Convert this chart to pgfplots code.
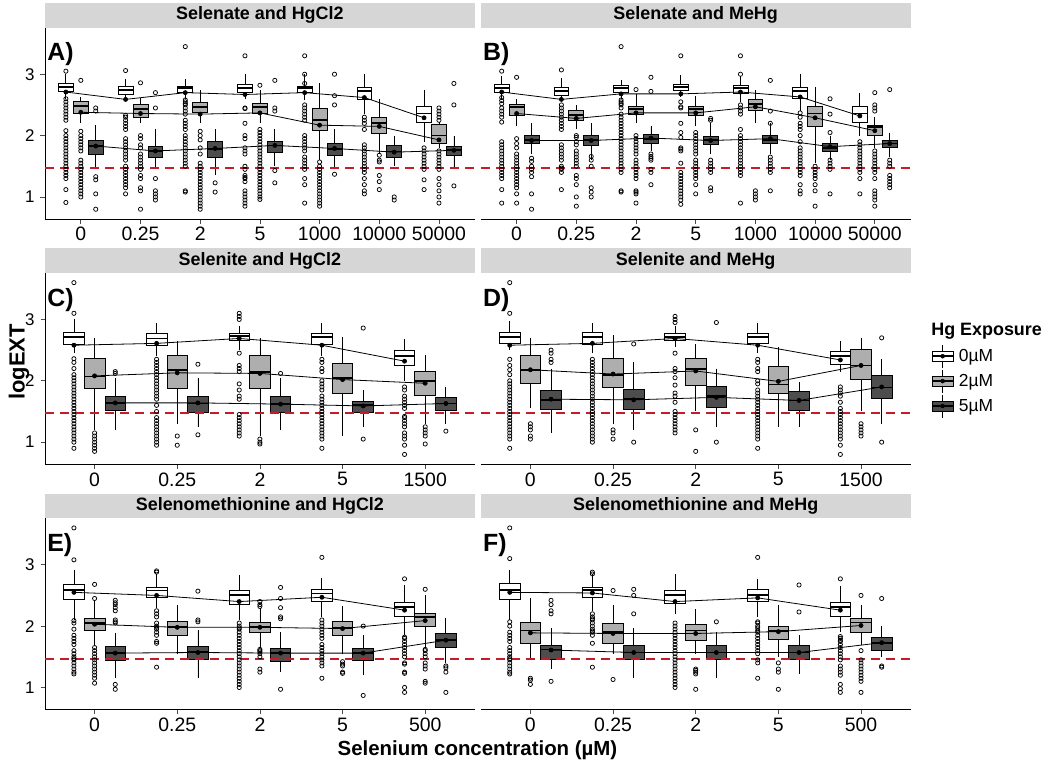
\documentclass[border=0pt]{standalone}
\usepackage{fontspec}
\setmainfont{Liberation Sans}
\usepackage{pgfplots}
\usepackage{pgfplotstable}
\usepgfplotslibrary{statistics}
\pgfplotsset{compat=1.18}
\definecolor{stripgray}{RGB}{214,214,214}
\definecolor{boxgray}{RGB}{174,174,174}
\definecolor{boxdark}{RGB}{77,77,77}
\definecolor{refred}{RGB}{196,28,40}

\newcommand{\legkey}[1]{%
  \draw[black, line width=0.6bp] (10.5bp,-11.5bp) -- (10.5bp,11.5bp);
  \draw[black, line width=0.8bp, fill=#1] (0bp,-5bp) rectangle (21bp,5bp);
  \draw[black, line width=1.6bp] (0bp,0bp) -- (21bp,0bp);
  \fill[black] (10.5bp,0bp) circle (2bp);
}
\tikzset{plabel/.style={anchor=north west, inner sep=0pt, font=\fontsize{25}{25}\selectfont\bfseries}}

\pgfplotsset{
  every axis title/.style={at={(0.5,1)}, anchor=south, fill=stripgray, minimum width=429.8bp, minimum height=24.5bp, inner sep=0pt, font=\fontsize{18}{18}\selectfont\bfseries},
  panel/.style={
    scale only axis, width=429.8bp, height=191.5bp, anchor=south west, clip=false,
    xmin=0.4, ymin=0.636, ymax=3.757,
    axis x line*=bottom, axis y line*=left,
    axis line style={-, line width=0.8bp, black},
    tick align=outside, major tick length=4.5bp,
    tick style={line width=0.7bp, black!70},
    ytick={1,2,3}, yticklabels={1,2,3},
    yticklabel style={font=\fontsize{17}{17}\selectfont, xshift=-2.5bp},
    xticklabel style={font=\fontsize{19.5}{19.5}\selectfont},
    boxplot/draw direction=y, boxplot/box extend=0.25, boxplot/whisker extend=0,
    boxplot/every median/.style={line width=1.8bp},
  },
  rpanel/.style={panel, y axis line style={draw=none}, ytick=\empty},
  meanline/.style={black, line width=0.8bp, mark=*, mark size=2bp, mark options={fill=black, solid}},
  outl/.style={only marks, mark=o, mark size=2.1bp, mark options={black, line width=0.75bp}},
  refline/.style={refred, line width=2bp, dash pattern=on 9bp off 6bp},
}

% one box read from a row of a panel table: #1 table, #2 row, #3 group prefix, #4 offset, #5 fill
\newcommand{\onebox}[5]{%
  \pgfplotstablegetelem{#2}{#3l}\of#1\let\bLW\pgfplotsretval
  \pgfplotstablegetelem{#2}{#3q}\of#1\let\bLQ\pgfplotsretval
  \pgfplotstablegetelem{#2}{#3m}\of#1\let\bMD\pgfplotsretval
  \pgfplotstablegetelem{#2}{#3u}\of#1\let\bUQ\pgfplotsretval
  \pgfplotstablegetelem{#2}{#3h}\of#1\let\bUW\pgfplotsretval
  \pgfmathsetmacro\bPOS{#2+#4}%
  \edef\temp{\noexpand\addplot[boxplot prepared={draw position=\bPOS, lower whisker=\bLW, lower quartile=\bLQ, median=\bMD, upper quartile=\bUQ, upper whisker=\bUW}, draw=black, fill=#5, line width=0.8bp] coordinates {};}%
  \temp
}

\newcommand{\drawpanel}[3]{%
  \pgfplotsinvokeforeach{0,...,#2}{\onebox{#1}{##1}{w}{0.75}{white}}
  \pgfplotsinvokeforeach{0,...,#2}{\onebox{#1}{##1}{g}{1}{boxgray}}
  \pgfplotsinvokeforeach{0,...,#2}{\onebox{#1}{##1}{d}{1.25}{boxdark}}
  \addplot[meanline] table[x expr=\thisrow{c}-0.25, y=wa] {#1};
  \addplot[meanline] table[x=c, y=ga] {#1};
  \addplot[meanline] table[x expr=\thisrow{c}+0.25, y=da] {#1};
}

% c: category; w/g/d = 0uM / 2uM / 5uM; l=lower whisker, q=lower quartile, m=median, u=upper quartile, h=upper whisker, a=mean
\pgfplotstableread{
c wl wq wm wu wh wa gl gq gm gu gh ga dl dq dm du dh da
1 2.60 2.72 2.79 2.85 3.00 2.71 2.20 2.36 2.48 2.56 2.63 2.38 1.46 1.70 1.83 1.92 2.17 1.83
2 2.58 2.67 2.74 2.80 2.93 2.59 2.20 2.30 2.44 2.51 2.62 2.36 1.47 1.65 1.75 1.83 2.10 1.75
3 2.60 2.71 2.77 2.80 2.93 2.70 2.20 2.37 2.47 2.54 2.75 2.35 1.35 1.65 1.78 1.91 2.10 1.79
4 2.60 2.71 2.78 2.83 3.00 2.67 2.20 2.36 2.46 2.53 2.75 2.37 1.50 1.72 1.84 1.91 2.10 1.84
5 2.58 2.70 2.77 2.80 3.00 2.70 1.60 2.09 2.25 2.44 2.85 2.17 1.45 1.68 1.78 1.87 2.10 1.79
6 2.35 2.59 2.73 2.78 3.00 2.62 1.70 2.03 2.20 2.29 2.60 2.15 1.50 1.65 1.74 1.84 2.00 1.73
7 1.90 2.21 2.36 2.47 2.75 2.29 1.80 1.87 2.00 2.18 2.22 1.93 1.45 1.68 1.76 1.83 2.00 1.76
}\tA
\pgfplotstableread{
c wl wq wm wu wh wa gl gq gm gu gh ga dl dq dm du dh da
1 2.60 2.71 2.78 2.84 2.97 2.71 2.15 2.33 2.47 2.51 2.60 2.36 1.70 1.87 1.93 2.00 2.20 1.92
2 2.62 2.66 2.73 2.79 2.94 2.59 2.10 2.24 2.33 2.41 2.50 2.28 1.60 1.84 1.93 2.00 2.20 1.92
3 2.60 2.71 2.77 2.81 2.90 2.68 2.20 2.35 2.44 2.48 2.68 2.37 1.75 1.88 1.95 2.02 2.15 1.96
4 2.63 2.73 2.79 2.84 2.98 2.68 2.15 2.33 2.43 2.48 2.65 2.37 1.70 1.85 1.93 1.99 2.20 1.92
5 2.55 2.69 2.77 2.81 2.97 2.71 2.20 2.41 2.52 2.59 2.75 2.47 1.70 1.87 1.93 2.00 2.20 1.95
6 2.40 2.60 2.73 2.78 3.00 2.63 1.55 2.15 2.36 2.48 2.80 2.29 1.60 1.75 1.80 1.87 2.00 1.82
7 2.00 2.21 2.36 2.47 2.70 2.32 1.80 2.00 2.14 2.17 2.30 2.08 1.65 1.80 1.87 1.92 2.05 1.87
}\tB
\pgfplotstableread{
c wl wq wm wu wh wa gl gq gm gu gh ga dl dq dm du dh da
1 2.45 2.60 2.71 2.79 3.00 2.58 1.20 1.87 2.07 2.36 2.70 2.08 1.20 1.52 1.64 1.75 2.05 1.64
2 2.40 2.58 2.69 2.78 2.95 2.61 1.30 1.87 2.17 2.41 2.65 2.13 1.25 1.49 1.63 1.75 2.05 1.64
3 2.50 2.66 2.73 2.78 2.90 2.69 1.10 1.87 2.14 2.41 2.70 2.12 1.20 1.48 1.62 1.74 2.05 1.62
4 2.40 2.60 2.71 2.78 2.95 2.58 1.10 1.79 2.04 2.28 2.72 2.02 1.25 1.48 1.60 1.67 1.85 1.59
5 2.00 2.25 2.40 2.49 2.68 2.32 1.30 1.77 2.00 2.16 2.42 1.96 1.30 1.51 1.63 1.73 1.90 1.63
}\tC
\pgfplotstableread{
c wl wq wm wu wh wa gl gq gm gu gh ga dl dq dm du dh da
1 2.50 2.61 2.71 2.79 2.98 2.58 1.55 1.96 2.18 2.41 2.70 2.18 1.15 1.53 1.69 1.85 2.20 1.70
2 2.45 2.60 2.71 2.79 2.95 2.61 1.30 1.90 2.10 2.36 2.75 2.11 1.20 1.54 1.70 1.86 2.30 1.69
3 2.55 2.66 2.72 2.78 2.90 2.69 1.50 1.93 2.19 2.37 2.60 2.16 1.25 1.56 1.75 1.91 2.20 1.73
4 2.45 2.61 2.71 2.78 2.95 2.58 1.25 1.79 1.94 2.23 2.55 1.99 1.25 1.52 1.68 1.82 1.98 1.68
5 2.15 2.27 2.40 2.48 2.65 2.34 1.50 2.03 2.25 2.51 2.70 2.25 1.30 1.72 1.89 2.09 2.35 1.90
}\tD
\pgfplotstableread{
c wl wq wm wu wh wa gl gq gm gu gh ga dl dq dm du dh da
1 2.10 2.43 2.59 2.68 2.92 2.55 1.70 1.93 2.05 2.13 2.42 2.03 1.15 1.44 1.56 1.67 1.88 1.56
2 2.30 2.47 2.58 2.63 2.85 2.50 1.55 1.85 1.98 2.08 2.35 1.98 1.15 1.45 1.58 1.67 1.93 1.57
3 2.10 2.36 2.51 2.58 2.83 2.40 1.65 1.89 1.98 2.06 2.30 1.98 1.25 1.42 1.56 1.64 1.90 1.56
4 2.15 2.40 2.53 2.60 2.78 2.47 1.55 1.85 1.97 2.08 2.33 1.96 1.20 1.44 1.56 1.64 1.85 1.56
5 1.85 2.16 2.31 2.38 2.67 2.26 1.65 2.00 2.15 2.21 2.50 2.09 1.40 1.66 1.78 1.88 2.13 1.77
}\tE
\pgfplotstableread{
c wl wq wm wu wh wa gl gq gm gu gh ga dl dq dm du dh da
1 2.10 2.43 2.59 2.69 2.92 2.55 1.45 1.71 1.93 2.06 2.45 1.89 1.30 1.46 1.62 1.69 1.97 1.61
2 2.25 2.47 2.59 2.63 2.85 2.54 1.55 1.72 1.91 2.04 2.35 1.88 1.15 1.46 1.57 1.68 1.97 1.57
3 2.20 2.37 2.51 2.58 2.85 2.40 1.55 1.76 1.93 2.03 2.28 1.88 1.15 1.46 1.57 1.68 1.90 1.57
4 2.15 2.41 2.51 2.60 2.77 2.46 1.50 1.78 1.92 2.00 2.35 1.91 1.22 1.46 1.57 1.68 1.85 1.57
5 1.90 2.16 2.31 2.38 2.65 2.26 1.70 1.90 2.06 2.13 2.35 2.01 1.50 1.61 1.73 1.82 2.00 1.73
}\tF

\begin{document}
\begin{tikzpicture}
\path[use as bounding box] (0,0) rectangle (1050bp,763bp);

% ---------------- A ----------------
\begin{axis}[panel, at={(45bp,543.7bp)}, xmax=7.6, xtick={1,...,7}, xticklabels={0,0.25,2,5,1000,10000,50000}, title={Selenate and HgCl2}]
\drawpanel{\tA}{6}{7.6}
\addplot[outl] coordinates {
(0.75,3.05)(0.75,2.6)(0.75,2.55)(0.75,2.5)(0.75,2.45)(0.75,2.4)(0.75,2.35)(0.75,2.3)(0.75,2.25)(0.75,2.08)(0.75,2.0)(0.75,1.95)(0.75,1.9)(0.75,1.85)(0.75,1.8)(0.75,1.75)(0.75,1.7)(0.75,1.65)(0.75,1.6)(0.75,1.55)(0.75,1.5)(0.75,1.45)(0.75,1.4)(0.75,1.35)(0.75,1.3)(0.75,1.12)(0.75,0.91)
(1,2.9)(1,2.07)(1,2.0)(1,1.95)(1,1.9)(1,1.85)(1,1.8)(1,1.75)(1,1.6)(1,1.55)(1,1.5)(1,1.45)(1,1.4)(1,1.35)(1,1.3)(1,1.25)(1,1.2)(1,1.15)(1,1.1)(1,1.05)(1,1.0)
(1.25,2.45)(1.25,2.4)(1.25,1.33)(1.25,1.28)(1.25,1.05)(1.25,0.8)
(1.75,3.06)(1.75,2.33)(1.75,2.3)(1.75,2.25)(1.75,2.2)(1.75,2.15)(1.75,2.1)(1.75,1.95)(1.75,1.9)(1.75,1.85)(1.75,1.8)(1.75,1.75)(1.75,1.7)(1.75,1.65)(1.75,1.6)(1.75,1.5)(1.75,1.45)(1.75,1.4)(1.75,1.35)(1.75,1.3)(1.75,1.25)(1.75,1.2)(1.75,1.15)(1.75,1.05)
(2,2.86)(2,2.0)(2,1.95)(2,1.85)(2,1.8)(2,1.7)(2,1.65)(2,1.6)(2,1.55)(2,1.5)(2,1.45)(2,1.35)(2,1.3)(2,1.15)(2,1.1)(2,0.8)
(2.25,2.7)(2.25,2.45)(2.25,1.3)(2.25,1.1)(2.25,1.05)(2.25,1.0)(2.25,0.95)
(2.75,3.45)(2.75,2.58)(2.75,2.55)(2.75,2.52)(2.75,2.5)(2.75,2.45)(2.75,2.4)(2.75,2.35)(2.75,2.25)(2.75,2.2)(2.75,2.15)(2.75,2.1)(2.75,2.0)(2.75,1.95)(2.75,1.9)(2.75,1.85)(2.75,1.8)(2.75,1.75)(2.75,1.7)(2.75,1.65)(2.75,1.6)(2.75,1.55)(2.75,1.5)(2.75,1.1)(2.75,1.08)
(3,2.07)(3,2.0)(3,1.93)(3,1.8)(3,1.7)(3,1.55)(3,1.5)(3,1.45)(3,1.4)(3,1.35)(3,1.3)(3,1.25)(3,1.2)(3,1.15)(3,1.1)(3,1.05)(3,1.0)(3,0.95)(3,0.9)(3,0.85)(3,0.8)
(3.25,1.23)(3.25,1.08)
(3.75,3.3)(3.75,2.45)(3.75,2.44)(3.75,2.2)(3.75,2.0)(3.75,1.95)(3.75,1.8)(3.75,1.75)(3.75,1.7)(3.75,1.5)(3.75,1.45)(3.75,1.35)(3.75,1.32)(3.75,1.3)(3.75,1.25)(3.75,1.1)(3.75,1.05)(3.75,1.0)(3.75,0.95)(3.75,0.9)(3.75,0.85)
(4,2.82)(4,2.1)(4,2.05)(4,2.0)(4,1.95)(4,1.9)(4,1.85)(4,1.8)(4,1.75)(4,1.7)(4,1.65)(4,1.6)(4,1.55)(4,1.5)(4,1.45)(4,1.4)(4,1.35)(4,1.3)(4,1.25)(4,1.2)(4,1.15)(4,1.1)(4,1.05)(4,1.0)(4,0.96)
(4.25,2.9)(4.25,2.45)(4.25,2.4)(4.25,1.43)(4.25,1.23)
(4.75,3.3)(4.75,3.0)(4.75,2.85)(4.75,2.5)(4.75,2.45)(4.75,2.4)(4.75,2.35)(4.75,2.3)(4.75,2.25)(4.75,2.0)(4.75,1.95)(4.75,1.9)(4.75,1.85)(4.75,1.8)(4.75,1.75)(4.75,1.65)(4.75,1.6)(4.75,1.55)(4.75,1.5)(4.75,1.45)(4.75,1.3)(4.75,1.2)(4.75,0.9)
(5,1.57)(5,1.5)(5,1.45)(5,1.4)(5,1.35)(5,1.3)(5,1.25)(5,1.2)(5,1.15)(5,1.1)(5,1.05)(5,1.0)(5,0.95)(5,0.9)(5,0.85)
(5.25,3.0)(5.25,2.65)(5.25,2.5)(5.25,1.37)
(5.75,2.3)(5.75,2.25)(5.75,2.2)(5.75,2.1)(5.75,1.85)(5.75,1.8)(5.75,1.75)(5.75,1.7)(5.75,1.65)(5.75,1.6)(5.75,1.55)(5.75,1.5)(5.75,1.45)(5.75,1.4)(5.75,1.3)(5.75,1.2)(5.75,1.1)(5.75,1.05)
(6,1.68)(6,1.6)(6,1.57)(6,1.35)(6,1.25)(6,1.12)
(6.25,1.0)(6.25,0.95)
(6.75,1.8)(6.75,1.75)(6.75,1.7)(6.75,1.65)(6.75,1.6)(6.75,1.55)(6.75,1.5)(6.75,1.45)(6.75,1.28)(6.75,1.12)
(7,2.45)(7,2.4)(7,2.35)(7,2.3)(7,2.25)(7,1.75)(7,1.7)(7,1.65)(7,1.6)(7,1.55)(7,1.5)(7,1.45)(7,1.3)(7,1.2)(7,1.1)(7,1.0)(7,0.9)
(7.25,2.85)(7.25,2.5)(7.25,1.18)
};
\addplot[refline] coordinates {(0.4,1.47) (7.6,1.47)};
\node[plabel] at (rel axis cs:0.005,0.922) {A)};
\end{axis}

% ---------------- B ----------------
\begin{axis}[rpanel, at={(480.8bp,543.7bp)}, xmax=7.6, xtick={1,...,7}, xticklabels={0,0.25,2,5,1000,10000,50000}, title={Selenate and MeHg}]
\drawpanel{\tB}{6}{7.6}
\addplot[outl] coordinates {
(0.75,3.05)(0.75,2.62)(0.75,2.57)(0.75,2.52)(0.75,2.45)(0.75,2.4)(0.75,2.35)(0.75,2.3)(0.75,2.22)(0.75,1.9)(0.75,1.85)(0.75,1.8)(0.75,1.75)(0.75,1.7)(0.75,1.65)(0.75,1.6)(0.75,1.55)(0.75,1.5)(0.75,1.45)(0.75,1.4)(0.75,1.35)(0.75,1.3)(0.75,1.12)(0.75,0.9)
(1,2.95)(1,1.95)(1,1.87)(1,1.8)(1,1.7)(1,1.65)(1,1.6)(1,1.55)(1,1.5)(1,1.45)(1,1.4)(1,1.35)(1,1.3)(1,1.25)(1,1.2)(1,1.15)(1,1.05)(1,0.9)
(1.25,1.63)(1.25,1.58)(1.25,1.5)(1.25,1.45)(1.25,1.4)(1.25,1.33)(1.25,1.05)(1.25,0.8)
(1.75,3.07)(1.75,2.5)(1.75,2.45)(1.75,2.4)(1.75,2.35)(1.75,2.3)(1.75,2.25)(1.75,2.2)(1.75,2.15)(1.75,2.1)(1.75,1.85)(1.75,1.8)(1.75,1.75)(1.75,1.7)(1.75,1.65)(1.75,1.6)(1.75,1.5)(1.75,1.47)(1.75,1.45)(1.75,1.4)(1.75,1.12)
(2,2.0)(2,1.97)(2,1.9)(2,1.85)(2,1.75)(2,1.7)(2,1.65)(2,1.6)(2,1.55)(2,1.5)(2,1.35)(2,1.3)(2,1.2)(2,1.0)(2,0.85)
(2.25,1.66)(2.25,1.6)(2.25,1.5)(2.25,1.15)(2.25,1.08)(2.25,1.0)
(2.75,3.45)(2.75,2.58)(2.75,2.55)(2.75,2.52)(2.75,2.5)(2.75,2.45)(2.75,2.35)(2.75,2.3)(2.75,2.25)(2.75,2.2)(2.75,2.15)(2.75,2.1)(2.75,2.05)(2.75,2.0)(2.75,1.95)(2.75,1.9)(2.75,1.85)(2.75,1.8)(2.75,1.75)(2.75,1.7)(2.75,1.65)(2.75,1.6)(2.75,1.55)(2.75,1.5)(2.75,1.45)(2.75,1.4)(2.75,1.1)(2.75,1.08)
(3,2.75)(3,2.0)(3,1.95)(3,1.9)(3,1.85)(3,1.8)(3,1.75)(3,1.7)(3,1.6)(3,1.55)(3,1.5)(3,1.45)(3,1.4)(3,1.35)(3,1.3)(3,1.1)(3,1.08)(3,1.05)(3,0.9)
(3.25,2.95)(3.25,2.72)(3.25,1.7)(3.25,1.66)(3.25,1.63)(3.25,1.6)(3.25,1.45)(3.25,1.4)(3.25,1.2)
(3.75,3.3)(3.75,2.55)(3.75,2.47)(3.75,2.45)(3.75,2.2)(3.75,2.05)(3.75,1.97)(3.75,1.8)(3.75,1.78)(3.75,1.75)(3.75,1.55)(3.75,1.4)(3.75,1.35)(3.75,1.3)(3.75,1.25)(3.75,1.2)(3.75,1.15)(3.75,1.1)(3.75,1.05)(3.75,1.0)(3.75,0.95)(3.75,0.88)
(4,2.05)(4,2.0)(4,1.95)(4,1.9)(4,1.85)(4,1.8)(4,1.75)(4,1.7)(4,1.6)(4,1.55)(4,1.5)(4,1.45)(4,1.4)(4,1.35)(4,1.3)(4,1.2)(4,1.05)
(4.25,2.28)(4.25,2.25)(4.25,1.6)(4.25,1.55)(4.25,1.5)(4.25,1.45)(4.25,1.4)(4.25,1.15)(4.25,1.1)
(4.75,3.3)(4.75,3.0)(4.75,2.5)(4.75,2.45)(4.75,2.4)(4.75,2.35)(4.75,2.1)(4.75,2.0)(4.75,1.95)(4.75,1.9)(4.75,1.85)(4.75,1.8)(4.75,1.75)(4.75,1.7)(4.75,1.65)(4.75,1.6)(4.75,1.55)(4.75,1.5)(4.75,1.45)(4.75,1.4)(4.75,1.35)(4.75,0.9)
(5,1.1)(5,1.05)(5,1.0)(5,0.95)
(5.25,2.9)(5.25,2.4)(5.25,2.2)(5.25,1.65)(5.25,1.6)(5.25,1.55)(5.25,1.5)(5.25,1.45)(5.25,1.4)(5.25,1.1)
(5.75,2.37)(5.75,2.3)(5.75,2.2)(5.75,2.15)(5.75,2.1)(5.75,2.0)(5.75,1.9)(5.75,1.8)(5.75,1.75)(5.75,1.7)(5.75,1.65)(5.75,1.6)(5.75,1.55)(5.75,1.5)(5.75,1.45)(5.75,1.4)(5.75,1.35)(5.75,1.2)(5.75,1.1)(5.75,1.05)
(6,1.5)(6,1.45)(6,1.4)(6,1.35)(6,1.3)(6,1.2)(6,1.1)(6,0.85)
(6.25,2.6)(6.25,2.35)(6.25,2.05)(6.25,1.6)(6.25,1.55)(6.25,1.5)(6.25,1.45)(6.25,1.05)
(6.75,1.9)(6.75,1.85)(6.75,1.8)(6.75,1.75)(6.75,1.7)(6.75,1.65)(6.75,1.6)(6.75,1.55)(6.75,1.5)(6.75,1.45)(6.75,1.4)(6.75,1.3)(6.75,1.05)
(7,2.7)(7,2.5)(7,2.45)(7,2.4)(7,1.75)(7,1.7)(7,1.65)(7,1.6)(7,1.55)(7,1.5)(7,1.45)(7,1.4)(7,1.3)(7,1.1)(7,1.05)(7,1.0)(7,0.95)(7,0.85)
(7.25,2.75)(7.25,1.6)(7.25,1.55)(7.25,1.5)(7.25,1.35)(7.25,1.3)(7.25,1.25)(7.25,1.2)(7.25,1.15)
};
\addplot[refline] coordinates {(0.4,1.47) (7.6,1.47)};
\node[plabel] at (rel axis cs:0.005,0.922) {B)};
\end{axis}

% ---------------- C ----------------
\begin{axis}[panel, at={(45bp,298.5bp)}, xmax=5.6, xtick={1,...,5}, xticklabels={0,0.25,2,5,1500}, title={Selenite and HgCl2}]
\drawpanel{\tC}{4}{5.6}
\addplot[outl] coordinates {
(0.75,3.6)(0.75,3.1)(0.75,2.36)(0.75,2.3)(0.75,2.2)(0.75,2.1)(0.75,2.05)(0.75,2.0)(0.75,1.95)(0.75,1.9)(0.75,1.85)(0.75,1.8)(0.75,1.75)(0.75,1.7)(0.75,1.65)(0.75,1.6)(0.75,1.55)(0.75,1.5)(0.75,1.45)(0.75,1.4)(0.75,1.35)(0.75,1.3)(0.75,1.25)(0.75,1.2)(0.75,1.15)(0.75,1.1)(0.75,1.05)(0.75,1.0)(0.75,0.9)
(1,1.15)(1,1.1)(1,1.05)(1,1.0)(1,0.95)(1,0.9)(1,0.85)
(1.25,2.15)(1.25,2.12)
(1.75,2.35)(1.75,2.3)(1.75,2.25)(1.75,2.2)(1.75,2.15)(1.75,2.1)(1.75,2.05)(1.75,2.0)(1.75,1.95)(1.75,1.9)(1.75,1.85)(1.75,1.8)(1.75,1.75)(1.75,1.7)(1.75,1.6)(1.75,1.5)(1.75,1.4)(1.75,1.35)(1.75,1.3)(1.75,1.25)(1.75,1.2)(1.75,1.15)(1.75,1.1)(1.75,1.05)(1.75,1.0)(1.75,0.95)
(2,1.1)(2,0.95)
(2.25,2.27)(2.25,1.12)
(2.75,3.1)(2.75,3.05)(2.75,3.0)(2.75,2.45)(2.75,2.25)(2.75,2.2)(2.75,2.15)(2.75,1.95)(2.75,1.85)(2.75,1.75)(2.75,1.7)(2.75,1.45)(2.75,1.4)(2.75,1.35)(2.75,1.3)(2.75,1.25)(2.75,1.2)(2.75,1.15)(2.75,1.1)
(3,1.05)(3,1.0)(3,0.97)
(3.25,2.12)
(3.75,2.35)(3.75,2.3)(3.75,2.2)(3.75,2.15)(3.75,2.0)(3.75,1.95)(3.75,1.9)(3.75,1.85)(3.75,1.75)(3.75,1.7)(3.75,1.65)(3.75,1.6)(3.75,1.55)(3.75,1.5)(3.75,1.45)(3.75,1.4)(3.75,1.35)(3.75,1.3)(3.75,1.25)(3.75,1.2)(3.75,1.15)(3.75,1.1)(3.75,1.05)(3.75,0.9)
(4.25,2.86)(4.25,1.05)
(4.75,1.9)(4.75,1.85)(4.75,1.75)(4.75,1.7)(4.75,1.65)(4.75,1.6)(4.75,1.55)(4.75,1.42)(4.75,1.4)(4.75,1.35)(4.75,1.3)(4.75,1.25)(4.75,1.15)(4.75,1.1)(4.75,1.05)(4.75,0.95)(4.75,0.8)
(5,1.25)(5,1.2)(5,1.15)(5,1.1)(5,0.97)
(5.25,1.18)
};
\addplot[refline] coordinates {(0.4,1.47) (5.6,1.47)};
\node[plabel] at (rel axis cs:0.005,0.922) {C)};
\end{axis}

% ---------------- D ----------------
\begin{axis}[rpanel, at={(480.8bp,298.5bp)}, xmax=5.6, xtick={1,...,5}, xticklabels={0,0.25,2,5,1500}, title={Selenite and MeHg},
  legend style={at={(1.0477,0.628)}, anchor=north west, draw=none, fill=none, inner sep=0pt, row sep=1.3bp, font=\fontsize{17.5}{17.5}\selectfont}, legend cell align=left]
\addlegendimage{legend image code/.code={\legkey{white}}}
\addlegendentry{\hspace{3bp}0µM}
\addlegendimage{legend image code/.code={\legkey{boxgray}}}
\addlegendentry{\hspace{3bp}2µM}
\addlegendimage{legend image code/.code={\legkey{boxdark}}}
\addlegendentry{\hspace{3bp}5µM}
\drawpanel{\tD}{4}{5.6}
\addplot[outl] coordinates {
(0.75,3.6)(0.75,3.1)(0.75,2.35)(0.75,2.25)(0.75,2.18)(0.75,2.1)(0.75,2.0)(0.75,1.95)(0.75,1.9)(0.75,1.85)(0.75,1.8)(0.75,1.75)(0.75,1.7)(0.75,1.65)(0.75,1.6)(0.75,1.55)(0.75,1.5)(0.75,1.45)(0.75,1.4)(0.75,1.35)(0.75,1.3)(0.75,1.25)(0.75,1.2)(0.75,1.15)(0.75,1.1)(0.75,1.05)(0.75,0.9)
(1,1.3)(1,1.25)(1,1.2)(1,1.1)(1,1.05)
(1.25,2.5)(1.25,2.45)(1.25,2.35)(1.25,2.3)
(1.75,2.35)(1.75,2.3)(1.75,2.25)(1.75,2.2)(1.75,2.15)(1.75,2.1)(1.75,2.05)(1.75,2.0)(1.75,1.95)(1.75,1.9)(1.75,1.85)(1.75,1.8)(1.75,1.75)(1.75,1.7)(1.75,1.65)(1.75,1.6)(1.75,1.55)(1.75,1.5)(1.75,1.45)(1.75,1.4)(1.75,1.35)(1.75,1.3)(1.75,1.25)(1.75,1.2)(1.75,1.15)(1.75,1.1)(1.75,1.05)(1.75,1.0)
(2,1.2)(2,1.15)(2,1.05)
(2.25,2.6)(2.25,1.0)
(2.75,3.05)(2.75,3.0)(2.75,2.95)(2.75,2.45)(2.75,2.2)(2.75,2.15)(2.75,2.05)(2.75,1.93)(2.75,1.8)(2.75,1.75)(2.75,1.65)(2.75,1.5)(2.75,1.45)(2.75,1.4)(2.75,1.35)(2.75,1.3)(2.75,1.25)(2.75,1.2)(2.75,1.15)
(3,1.2)(3,0.85)
(3.25,2.95)(3.25,1.0)
(3.75,2.35)(3.75,2.3)(3.75,2.2)(3.75,2.15)(3.75,2.0)(3.75,1.95)(3.75,1.85)(3.75,1.8)(3.75,1.75)(3.75,1.7)(3.75,1.65)(3.75,1.6)(3.75,1.55)(3.75,1.5)(3.75,1.45)(3.75,1.4)(3.75,1.35)(3.75,1.3)(3.75,1.25)(3.75,1.2)(3.75,1.15)(3.75,1.1)(3.75,1.05)(3.75,0.9)
(4.75,1.9)(4.75,1.85)(4.75,1.8)(4.75,1.75)(4.75,1.65)(4.75,1.55)(4.75,1.5)(4.75,1.45)(4.75,1.4)(4.75,1.35)(4.75,1.3)(4.75,1.25)(4.75,1.2)(4.75,1.15)(4.75,1.1)(4.75,1.05)(4.75,0.95)(4.75,0.8)
(5,1.3)(5,1.25)(5,1.2)(5,1.15)(5,1.1)
(5.25,2.7)(5.25,1.0)
};
\addplot[refline] coordinates {(0.4,1.47) (5.6,1.47)};
\node[plabel] at (rel axis cs:0.005,0.922) {D)};
\node[anchor=base west, inner sep=0pt, font=\fontsize{18}{18}\selectfont\bfseries] at (rel axis cs:1.0477,0.676) {Hg Exposure};
\end{axis}

% ---------------- E ----------------
\begin{axis}[panel, at={(45bp,53.2bp)}, xmax=5.6, xtick={1,...,5}, xticklabels={0,0.25,2,5,500}, title={Selenomethionine and HgCl2}]
\drawpanel{\tE}{4}{5.6}
\addplot[outl] coordinates {
(0.75,3.6)(0.75,3.08)(0.75,2.09)(0.75,2.05)(0.75,1.95)(0.75,1.85)(0.75,1.8)(0.75,1.75)(0.75,1.7)(0.75,1.6)(0.75,1.55)(0.75,1.5)(0.75,1.47)(0.75,1.45)(0.75,1.4)(0.75,1.35)(0.75,1.3)(0.75,1.25)(0.75,1.22)
(1,2.68)(1,2.45)(1,1.65)(1,1.6)(1,1.55)(1,1.5)(1,1.45)(1,1.4)(1,1.35)(1,1.3)(1,1.25)(1,1.2)(1,1.15)(1,1.07)
(1.25,2.42)(1.25,2.38)(1.25,2.35)(1.25,2.3)(1.25,2.25)(1.25,2.1)(1.25,2.07)(1.25,2.05)(1.25,1.05)(1.25,0.97)
(1.75,2.9)(1.75,2.88)(1.75,2.25)(1.75,2.2)(1.75,2.15)(1.75,2.05)(1.75,2.0)(1.75,1.98)(1.75,1.95)(1.75,1.9)(1.75,1.85)(1.75,1.75)(1.75,1.72)(1.75,1.33)
(2.25,2.57)(2.25,2.1)(2.25,2.07)
(2.75,2.05)(2.75,2.0)(2.75,1.97)(2.75,1.95)(2.75,1.9)(2.75,1.85)(2.75,1.8)(2.75,1.75)(2.75,1.7)(2.75,1.65)(2.75,1.6)(2.75,1.55)(2.75,1.5)(2.75,1.45)(2.75,1.4)(2.75,1.35)(2.75,1.3)(2.75,1.25)(2.75,1.2)(2.75,1.15)(2.75,1.1)(2.75,1.05)(2.75,1.0)
(3,2.4)(3,2.35)(3,2.32)(3,1.62)(3,1.6)(3,1.58)(3,1.55)(3,1.5)(3,1.3)(3,1.25)
(3.25,2.63)(3.25,2.45)(3.25,2.3)(3.25,2.15)(3.25,2.12)(3.25,0.97)
(3.75,3.12)(3.75,2.1)(3.75,2.05)(3.75,2.0)(3.75,1.95)(3.75,1.9)(3.75,1.85)(3.75,1.8)(3.75,1.7)(3.75,1.65)(3.75,1.6)(3.75,1.55)(3.75,1.5)(3.75,1.45)(3.75,1.4)(3.75,1.35)(3.75,1.15)
(4,1.42)(4,1.38)(4,1.35)(4,1.25)(4,1.23)
(4.25,2.0)(4.25,0.87)
(4.75,2.77)(4.75,1.82)(4.75,1.8)(4.75,1.75)(4.75,1.7)(4.75,1.65)(4.75,1.6)(4.75,1.55)(4.75,1.5)(4.75,1.4)(4.75,1.38)(4.75,1.25)(4.75,1.23)(4.75,1.0)(4.75,0.92)
(5,2.6)(5,1.62)(5,1.6)(5,1.55)(5,1.5)(5,1.4)(5,1.35)(5,1.3)(5,1.1)(5,1.07)
(5.25,1.35)(5.25,1.32)(5.25,1.25)(5.25,0.92)
};
\addplot[refline] coordinates {(0.4,1.47) (5.6,1.47)};
\node[plabel] at (rel axis cs:0.005,0.922) {E)};
\end{axis}

% ---------------- F ----------------
\begin{axis}[rpanel, at={(480.8bp,53.2bp)}, xmax=5.6, xtick={1,...,5}, xticklabels={0,0.25,2,5,500}, title={Selenomethionine and MeHg}]
\drawpanel{\tF}{4}{5.6}
\addplot[outl] coordinates {
(0.75,3.6)(0.75,3.1)(0.75,2.07)(0.75,2.0)(0.75,1.9)(0.75,1.85)(0.75,1.8)(0.75,1.75)(0.75,1.65)(0.75,1.6)(0.75,1.55)(0.75,1.5)(0.75,1.47)(0.75,1.45)(0.75,1.4)(0.75,1.35)(0.75,1.3)(0.75,1.25)(0.75,1.22)
(1,1.15)(1,1.12)(1,1.05)
(1.25,2.42)(1.25,2.35)(1.25,2.25)(1.25,2.2)(1.25,1.1)
(1.75,2.88)(1.75,2.85)(1.75,2.2)(1.75,2.15)(1.75,2.12)(1.75,2.1)(1.75,2.05)(1.75,2.0)(1.75,1.95)(1.75,1.92)(1.75,1.9)(1.75,1.85)(1.75,1.72)(1.75,1.33)
(2,2.58)(2,1.13)
(2.25,2.6)(2.25,2.5)(2.25,2.2)
(2.75,2.05)(2.75,2.0)(2.75,1.95)(2.75,1.9)(2.75,1.85)(2.75,1.8)(2.75,1.75)(2.75,1.7)(2.75,1.65)(2.75,1.6)(2.75,1.55)(2.75,1.5)(2.75,1.45)(2.75,1.4)(2.75,1.35)(2.75,1.3)(2.75,1.25)(2.75,1.2)(2.75,1.15)(2.75,1.1)(2.75,1.05)(2.75,1.0)
(3,1.3)(3,1.28)(3,1.25)(3,1.22)(3,0.97)
(3.25,2.07)
(3.75,3.12)(3.75,2.07)(3.75,2.05)(3.75,2.0)(3.75,1.97)(3.75,1.93)(3.75,1.9)(3.75,1.85)(3.75,1.8)(3.75,1.75)(3.75,1.7)(3.75,1.65)(3.75,1.6)(3.75,1.55)(3.75,1.45)(3.75,1.4)(3.75,1.15)
(4,1.4)(4,1.3)(4,1.25)(4,0.97)
(4.25,2.67)(4.25,2.23)
(4.75,2.77)(4.75,1.83)(4.75,1.8)(4.75,1.77)(4.75,1.75)(4.75,1.7)(4.75,1.65)(4.75,1.6)(4.75,1.55)(4.75,1.5)(4.75,1.45)(4.75,1.35)(4.75,1.3)(4.75,1.25)(4.75,1.2)(4.75,1.05)(4.75,0.98)(4.75,0.92)
(5,2.5)(5,1.6)(5,1.45)(5,1.4)(5,1.35)(5,1.3)(5,1.25)(5,1.2)(5,1.15)(5,1.1)(5,0.92)
(5.25,2.45)(5.25,1.35)(5.25,1.33)
};
\addplot[refline] coordinates {(0.4,1.47) (5.6,1.47)};
\node[plabel] at (rel axis cs:0.005,0.922) {F)};
\end{axis}

\node[font=\fontsize{22}{22}\selectfont\bfseries, rotate=90] at (19bp,401bp) {logEXT};
\node[font=\fontsize{20.5}{20.5}\selectfont\bfseries, anchor=base] at (477.5bp,8bp) {Selenium concentration (µM)};
\end{tikzpicture}
\end{document}
